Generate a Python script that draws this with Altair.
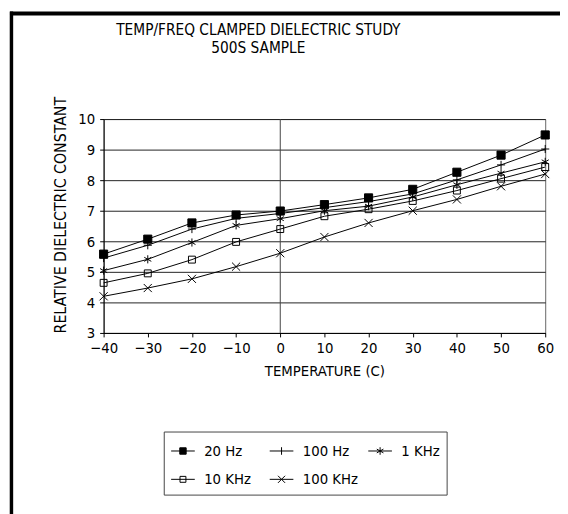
import altair as alt
import pandas as pd

temps = [-40, -30, -20, -10, 0, 10, 20, 30, 40, 50, 60]
series_names = ["20 Hz", "100 Hz", "1 KHz", "10 KHz", "100 KHz"]
hz20 = [5.58, 6.07, 6.6, 6.86, 6.99, 7.2, 7.42, 7.7, 8.26, 8.82, 9.48]
hz100 = [5.45, 5.87, 6.4, 6.75, 6.91, 7.1, 7.3, 7.55, 8.01, 8.5, 9.02]
khz1 = [5.04, 5.41, 5.96, 6.52, 6.74, 7.0, 7.15, 7.45, 7.85, 8.23, 8.6]
khz10 = [4.64, 4.95, 5.4, 5.98, 6.4, 6.82, 7.05, 7.32, 7.66, 8.05, 8.43]
khz100 = [4.2, 4.47, 4.77, 5.17, 5.61, 6.14, 6.6, 7.0, 7.37, 7.8, 8.2]
x_ticks = [-40, -30, -20, -10, 0, 10, 20, 30, 40, 50, 60]
y_ticks = [3, 4, 5, 6, 7, 8, 9, 10]

values = [hz20, hz100, khz1, khz10, khz100]
rows = []
for name, vals in zip(series_names, values):
    for t, v in zip(temps, vals):
        rows.append({"temp": t, "value": v, "freq": name})
df = pd.DataFrame(rows)

FONT = "DejaVu Sans Condensed, Liberation Sans Narrow, Roboto Condensed, Arial Narrow, sans-serif"

marker_paths = [
    "M-1,-1H1V1H-1Z",
    "M-1,0H1M0,-1V1",
    "M0,-1V1M-0.87,-0.5L0.87,0.5M-0.87,0.5L0.87,-0.5",
    "M-0.85,-0.85H0.85V0.85H-0.85Z",
    "M-1,-1L1,1M-1,1L1,-1",
]
legend_paths = [
    "M-1,0H1M-0.27,-0.27H0.27V0.27H-0.27Z",
    "M-1,0H1M0,-0.32V0.32",
    "M-1,0H1M0,-0.32V0.32M-0.28,-0.16L0.28,0.16M-0.28,0.16L0.28,-0.16",
    "M-1,0H1M-0.25,-0.25H0.25V0.25H-0.25Z",
    "M-1,0H1M-0.3,-0.3L0.3,0.3M-0.3,0.3L0.3,-0.3",
]
fills = ["black", "transparent", "transparent", "transparent", "transparent"]
strokes = ["black", "black", "black", "black", "black"]

x_enc = alt.X("temp:Q", scale=alt.Scale(domain=[-40, 60], nice=False),
              axis=alt.Axis(values=x_ticks, tickCount=12, format="d", title="TEMPERATURE (C)",
                            grid=False, tickSize=4, labelPadding=4, titlePadding=8,
                            labelFontSize=15, titleFontSize=15, labelFlush=False,
                            labelOverlap=False))
y_enc = alt.Y("value:Q", scale=alt.Scale(domain=[3, 10], nice=False),
              axis=alt.Axis(values=y_ticks, tickCount=10, format="d",
                            title="RELATIVE  DIELECTRIC  CONSTANT", titleY=97,
                            grid=True, gridColor="#222", tickSize=4, labelPadding=5,
                            titlePadding=9, labelFontSize=15, titleFontSize=16,
                            labelOverlap=False))

base = alt.Chart(df)

zero_rule = alt.Chart(pd.DataFrame({"temp": [0]})).mark_rule(
    color="#444", strokeWidth=1).encode(x=alt.X("temp:Q"))

lines = base.mark_line(color="black", strokeWidth=1).encode(
    x=x_enc, y=y_enc, detail="freq:N")

points = base.mark_point(filled=False, stroke="black", strokeWidth=1, size=68, opacity=1).encode(
    x="temp:Q", y="value:Q",
    shape=alt.Shape("freq:N", scale=alt.Scale(domain=series_names, range=marker_paths), legend=None),
    fill=alt.Fill("freq:N", scale=alt.Scale(domain=series_names, range=fills), legend=None),
)

leg = dict(title=None, orient="none", legendX=61, legendY=317, direction="horizontal",
           columns=3, strokeColor="#444", padding=7, symbolSize=576, symbolStrokeWidth=1,
           symbolStrokeColor="black", labelFont=FONT, labelFontSize=15, labelColor="black",
           labelOffset=9, columnPadding=7, rowPadding=8, gridAlign="all")

legend_layer = base.transform_filter("datum.temp > 1000").mark_point(
    filled=False, strokeWidth=1, size=576, opacity=1).encode(
    x="temp:Q", y="value:Q",
    shape=alt.Shape("freq:N", scale=alt.Scale(domain=series_names, range=legend_paths),
                    legend=alt.Legend(**leg)),
    fill=alt.Fill("freq:N", scale=alt.Scale(domain=series_names, range=fills),
                  legend=alt.Legend(**leg)),
    stroke=alt.Stroke("freq:N", scale=alt.Scale(domain=series_names, range=strokes),
                      legend=alt.Legend(**leg)),
)

frame_h = alt.Chart(pd.DataFrame({"a": [0]})).mark_rule(color="black", strokeWidth=4, clip=False).encode(
    x=alt.value(-95), x2=alt.value(480), y=alt.value(-107))
frame_v = alt.Chart(pd.DataFrame({"a": [0]})).mark_rule(color="black", strokeWidth=3.5, clip=False).encode(
    x=alt.value(-93.5), y=alt.value(-109), y2=alt.value(420))

chart = alt.layer(zero_rule, lines, points, legend_layer, frame_h, frame_v).resolve_scale(
    shape="independent", fill="independent", stroke="independent"
).properties(
    width=448, height=217,
    autosize=alt.AutoSizeParams(type="none"),
    padding={"left": 97, "top": 109, "right": 15, "bottom": 180},
    title=alt.TitleParams(["TEMP/FREQ CLAMPED DIELECTRIC STUDY", "500S SAMPLE"],
                          fontSize=15.5, fontWeight="normal", font=FONT, color="black",
                          anchor="middle", frame="group", dx=-67, offset=-47, lineHeight=18),
).configure(background="white").configure_view(stroke="#666", strokeWidth=1).configure_axis(
    labelFont=FONT, titleFont=FONT, labelColor="black", titleColor="black",
    titleFontWeight="normal", domainColor="black", tickColor="black",
).configure_legend(gridAlign="all")

chart.save("out.html", embed_options={"renderer": "svg", "actions": False})
